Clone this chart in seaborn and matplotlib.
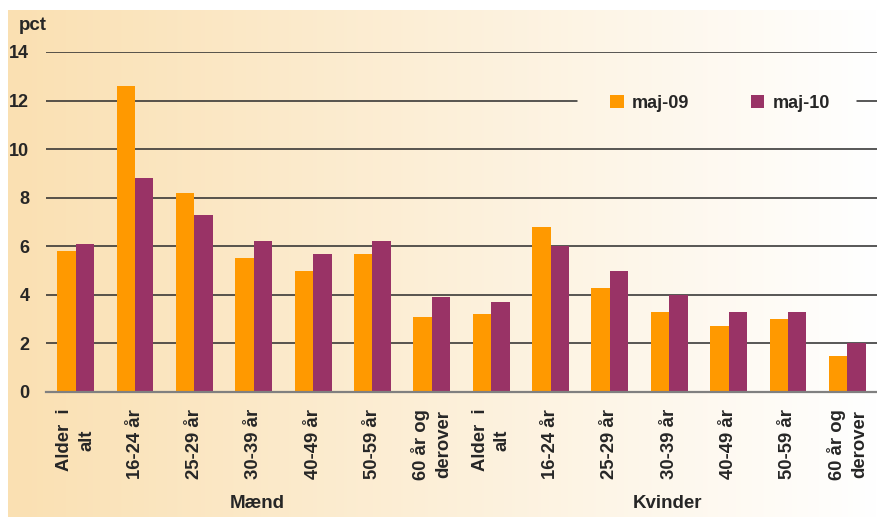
import numpy as np
import pandas as pd
import matplotlib
matplotlib.use("Agg")
import matplotlib.pyplot as plt
import seaborn as sns

age_labels = ["Alder  i\nalt", "16-24 år", "25-29 år", "30-39 år", "40-49 år",
              "50-59 år", "60 år og\nderover"]
groups = ["Mænd", "Kvinder"]
series = ["maj-09", "maj-10"]

maend_09 = [5.8, 12.6, 8.2, 5.5, 5.0, 5.7, 3.1]
maend_10 = [6.1, 8.8, 7.3, 6.2, 5.7, 6.2, 3.9]
kvinder_09 = [3.2, 6.8, 4.3, 3.3, 2.7, 3.0, 1.5]
kvinder_10 = [3.7, 6.0, 5.0, 4.0, 3.3, 3.3, 2.0]

rows = []
for g, v09, v10 in [("Mænd", maend_09, maend_10), ("Kvinder", kvinder_09, kvinder_10)]:
    for lab, a, b in zip(age_labels, v09, v10):
        key = g + "|" + lab
        rows.append((key, lab, g, series[0], a))
        rows.append((key, lab, g, series[1], b))
df = pd.DataFrame(rows, columns=["key", "alder", "gruppe", "periode", "pct"])
keys = list(dict.fromkeys(df["key"]))

sns.set_style("white")
plt.rcParams["font.family"] = ["Liberation Sans", "DejaVu Sans"]
plt.rcParams["font.weight"] = "bold"

W, H = 877, 517
fig = plt.figure(figsize=(W / 100, H / 100), dpi=100)
fig.patch.set_facecolor("white")

# gradient background
bg = fig.add_axes([8 / W, 0, 1 - 8 / W, 1 - 10 / H], zorder=0)
left = np.array([250, 224, 178]) / 255
right = np.array([255, 255, 255]) / 255
t = np.linspace(0, 1, 300)[None, :, None]
grad = left + (right - left) * t
bg.imshow(grad, aspect="auto", extent=[0, 1, 0, 1])
bg.axis("off")

ax = fig.add_axes([46 / W, 1 - 392 / H, 1 - 46 / W, (392 - 52) / H], zorder=1)
ax.patch.set_alpha(0)

sns.barplot(data=df, x="key", y="pct", hue="periode", order=keys,
            palette=["#FF9900", "#993366"], width=0.62, gap=0,
            saturation=1, linewidth=0, ax=ax, zorder=3)

ax.set_ylim(0, 14)
ax.set_yticks(range(0, 15, 2))
ax.set_xlim(-0.5, len(keys) - 0.5)
# gridlines; the 12-line is interrupted where the legend sits
for y in range(2, 15, 2):
    if y == 12:
        ax.axhline(y, xmax=(577 - 46) / (W - 46), color="#2a2a2a", lw=1.1, zorder=1)
        ax.axhline(y, xmin=(857 - 46) / (W - 46), color="#2a2a2a", lw=1.1, zorder=1)
    else:
        ax.axhline(y, color="#2a2a2a", lw=1.1, zorder=1)
for s in ["top", "right", "left"]:
    ax.spines[s].set_visible(False)
ax.spines["bottom"].set_color("#808080")
ax.spines["bottom"].set_linewidth(1.6)
ax.spines["bottom"].set_zorder(4)

ax.set_xticks(range(len(keys)))
ax.set_xticklabels(list(df.drop_duplicates("key")["alder"]), rotation=90,
                   fontsize=13.3, fontweight="bold", multialignment="center",
                   linespacing=1.4)
ax.tick_params(axis="x", length=0, pad=12)
ax.tick_params(axis="y", length=0, pad=12, labelsize=13)
for lbl in ax.get_yticklabels():
    lbl.set_fontweight("bold")
ax.set_xlabel("")
ax.set_ylabel("")

fig.text(33 / W, 1 - 25 / H, "pct", ha="center", va="center",
         fontsize=13.5, fontweight="bold")
fig.text(257 / W, 1 - 504 / H, groups[0], ha="center", va="center",
         fontsize=13.5, fontweight="bold")
fig.text(667 / W, 1 - 504 / H, groups[1], ha="center", va="center",
         fontsize=13.5, fontweight="bold")

handles, labels = ax.get_legend_handles_labels()
ax.legend(handles, labels, loc="center",
          bbox_to_anchor=((720 - 46) / (W - 46), (392 - 103) / (392 - 52)),
          bbox_transform=ax.transAxes, ncol=2, frameon=False,
          handlelength=0.75, handleheight=0.75, handletextpad=0.45,
          columnspacing=3.4, prop={"weight": "bold", "size": 13})
ax.get_legend().set_zorder(5)

fig.savefig("out.png", dpi=100)
